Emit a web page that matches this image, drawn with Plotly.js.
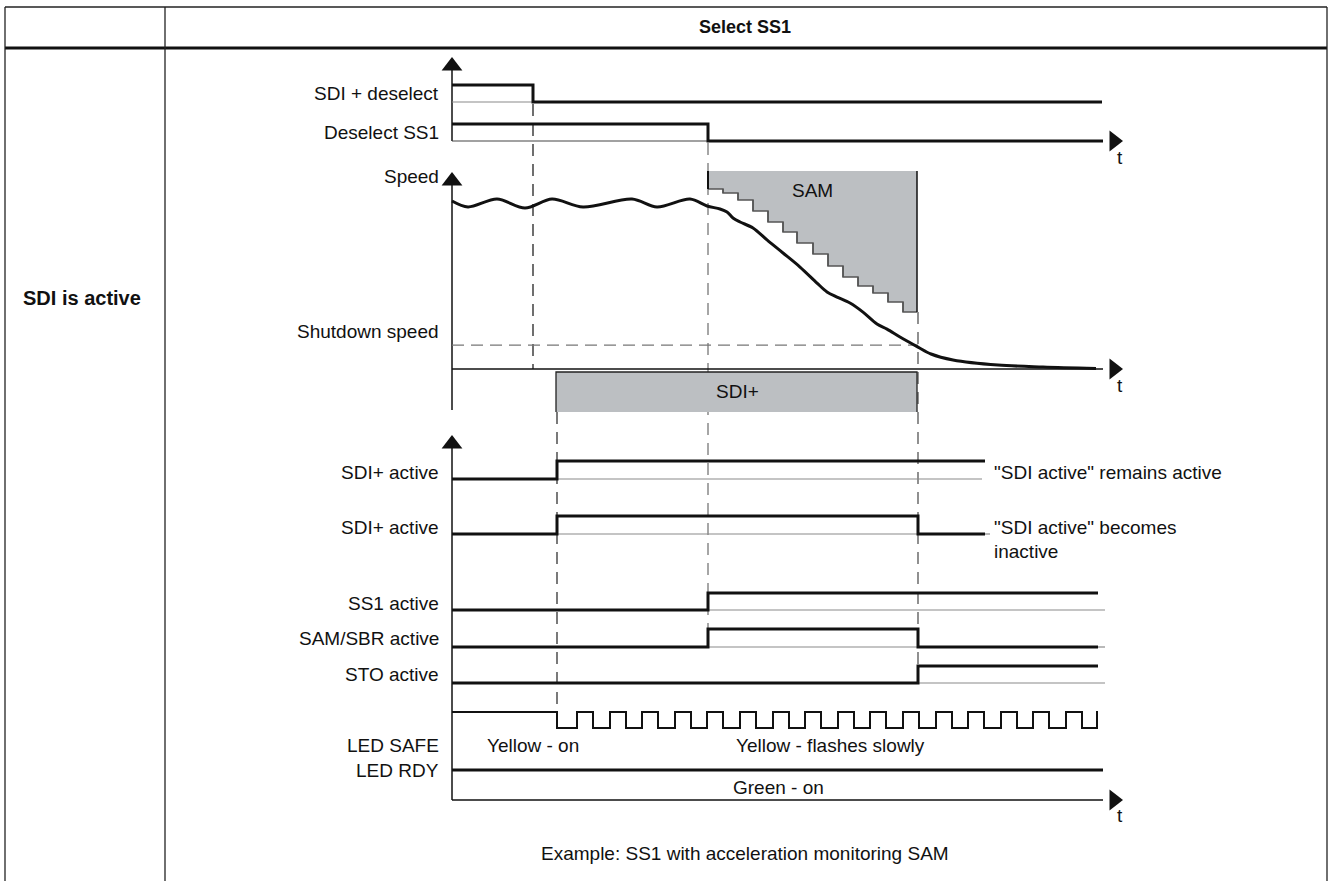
<!DOCTYPE html>
<html><head><meta charset="utf-8">
<script src="https://cdn.plot.ly/plotly-3.0.1.min.js"></script>
<style>html,body{margin:0;padding:0;background:#fff}#chart{width:1330px;height:881px}</style>
</head><body><div id="chart"></div>
<script>
// ---------- DATA (time in diagram units, 0 = time axis origin) ----------
const eventTimes = [81, 105, 256, 466];          // SDI deselect, SDI+ start, SS1 deselect, STO
const tTopEnd = 650, tSignalEnd = 646, tAxisEnd = 651, tArrow = 662, tSdiTextEnd = 533;

const sdiDeselectT = [0, 81, 81, 650];        const sdiDeselectV = [1, 1, 0, 0];
const deselectSs1T = [0, 256, 256, 651];      const deselectSs1V = [1, 1, 0, 0];
const sdiActiveAT  = [0, 105, 105, 533];      const sdiActiveAV  = [0, 0, 1, 1];
const sdiActiveBT  = [0, 105, 105, 466, 466, 533]; const sdiActiveBV = [0, 0, 1, 1, 0, 0];
const ss1ActiveT   = [0, 256, 256, 646];      const ss1ActiveV   = [0, 0, 1, 1];
const samSbrT      = [0, 256, 256, 466, 466, 646]; const samSbrV = [0, 0, 1, 1, 0, 0];
const stoActiveT   = [0, 466, 466, 646];      const stoActiveV   = [0, 0, 1, 1];
const ledRiseT = [125,158,190,223,255,288,321,353,386,418,451,484,516,549,581,614,645];
const ledFallT = [141,174,206,239,271,304,337,369,402,434,467,500,532,565,597,630];
const ledRdyT = [0, 651]; const ledRdyV = [1, 1];

// speed in % of nominal
const speedT = [0,16,45,73,100,131,180,205,238,255,268,275,281,288,301,315,331,348,365,375,385,398,411,425,435,448,466,479,501,546,591,644];
const speedV = [101.8,98.2,103.0,97.6,103.0,98.2,103.0,98.2,103.0,98.8,97.0,95.2,91.5,89.1,85.5,78.2,70.3,61.8,52.1,46.7,43.6,40.0,34.5,27.3,24.2,19.4,13.3,9.1,5.5,2.4,1.2,0.3];
const shutdownSpeed = 14.5;
const samTop = 120;
const samStepT = [256,271,286,301,316,331,345,361,376,391,406,421,436,451,465];
const samStepV = [109.1,106.7,102.4,95.8,89.1,83.0,76.4,69.7,62.4,55.8,50.3,46.1,40.6,34.5];

const rowLabels = ['SDI + deselect','Deselect SS1','Speed','Shutdown speed','SDI+ active','SDI+ active','SS1 active','SAM/SBR active','STO active','LED SAFE','LED RDY'];
const headerTitle = 'Select SS1';
const rowTitle = 'SDI is active';
const caption = 'Example: SS1 with acceleration monitoring SAM';

// ---------- LAYOUT HELPERS ----------
const W = 1330, H = 881;
const FONT = 'Liberation Sans, Arial, sans-serif';
const BLACK = '#111';
const GRAY = '#8a8a8a';
const FILL = '#bcbfc2';
function sigDomain(pxLow, pxHigh) {      // range [-0.5,1.5]
  const h = pxLow - pxHigh;
  return [1 - (pxLow + 0.5*h)/H, 1 - (pxHigh - 0.5*h)/H];
}
const hiddenAx = {visible:false, fixedrange:true, showgrid:false, zeroline:false};
const layout = {
  width: W, height: H, margin:{l:0,r:0,t:0,b:0}, paper_bgcolor:'#fff', plot_bgcolor:'rgba(0,0,0,0)',
  showlegend:false, font:{family:FONT, size:19, color:BLACK},
  xaxis: Object.assign({range:[-452, W-452], domain:[0,1], anchor:'y'}, hiddenAx),
  xaxis2: Object.assign({range:[0, W], overlaying:'x', anchor:'y'}, hiddenAx),
  yaxis: Object.assign({range:[H, 0], domain:[0,1], anchor:'x'}, hiddenAx),
  shapes: [], annotations: []
};
// signal rows: [axis, lowPx, highPx]
const rows = {
  sdiDes: ['y2', 102, 85], desSs1: ['y3', 141, 124], sdiA: ['y5', 479, 461], sdiB: ['y6', 534, 516],
  ss1: ['y7', 610, 593], sam: ['y8', 647, 629], sto: ['y9', 683, 666], led: ['y10', 728, 712], rdy: ['y11', 800, 770]
};
for (const k in rows) {
  const [ax, lo, hi] = rows[k];
  layout['yaxis' + ax.slice(1)] = Object.assign({range:[-0.5,1.5], domain:sigDomain(lo, hi), anchor:'x'}, hiddenAx);
}
// speed axis: v=0 at 369px, 1.65 px per %
layout.yaxis4 = Object.assign({range:[-30,125], domain:[1-418.5/H, 1-162.75/H], anchor:'x'}, hiddenAx);

const traces = [];
function line(x, y, yaxis, opts) {
  traces.push(Object.assign({type:'scatter', mode:'lines', x:x, y:y, xaxis:'x', yaxis:yaxis, hoverinfo:'skip',
    line:{color:BLACK, width:3}}, opts||{}));
}
function thin(t0, t1, yaxis, color) {
  line([t0, t1], [0, 0], yaxis, {line:{color:color||GRAY, width:1.2}});
}
function marker(x, y, xaxis, yaxis, sym) {
  traces.push({type:'scatter', mode:'markers', x:[x], y:[y], xaxis:xaxis, yaxis:yaxis, hoverinfo:'skip', cliponaxis:false,
    marker:{symbol:sym, size:18, color:BLACK, line:{width:0}}});
}

// ---------- TABLE ----------
const tbl = {type:'line', xref:'x2', yref:'y', line:{color:'#222', width:1.3}};
layout.shapes.push(Object.assign({}, tbl, {x0:5, x1:1327, y0:7, y1:7}));
layout.shapes.push(Object.assign({}, tbl, {x0:5, x1:1327, y0:48, y1:48, line:{color:'#111', width:3}}));
layout.shapes.push(Object.assign({}, tbl, {x0:5, x1:5, y0:7, y1:H}));
layout.shapes.push(Object.assign({}, tbl, {x0:165, x1:165, y0:7, y1:H}));
layout.shapes.push(Object.assign({}, tbl, {x0:1327, x1:1327, y0:7, y1:H}));

// ---------- DASHED EVENT LINES (pixel y) ----------
const dashSpans = [[104, 369], [412, 712], [143, 629], [312, 666]];
const dashColors = ['#222', '#333', '#777', '#555'];
eventTimes.forEach((t, i) => {
  line([t, t], dashSpans[i], 'y', {line:{color:dashColors[i], width:1.3, dash:'12px,8px'}});
});

// ---------- SAM region ----------
const samPolyT = [samStepT[0]], samPolyV = [samTop];
for (let i = 0; i < samStepV.length; i++) {
  samPolyT.push(samStepT[i], samStepT[i+1]); samPolyV.push(samStepV[i], samStepV[i]);
}
samPolyT.push(samStepT[samStepT.length-1]); samPolyV.push(samTop);
line(samPolyT, samPolyV, 'y4', {fill:'toself', fillcolor:FILL, line:{width:0, color:FILL}});
const stairT = [], stairV = [];
for (let i = 0; i < samStepV.length; i++) { stairT.push(samStepT[i], samStepT[i+1]); stairV.push(samStepV[i], samStepV[i]); }
line(stairT, stairV, 'y4', {line:{color:'#555', width:1.5}});
const riserT = [], riserV = [];
for (let i = 1; i < samStepV.length; i++) { riserT.push(samStepT[i], samStepT[i], null); riserV.push(samStepV[i-1], samStepV[i], null); }
line(riserT, riserV, 'y4', {line:{color:'#555', width:1.5}});
line([samStepT[0], samStepT[0]], [samTop, samStepV[0]], 'y4', {line:{color:BLACK, width:2}});
line([samStepT[samStepT.length-1], samStepT[samStepT.length-1]], [samTop, samStepV[samStepV.length-1]], 'y4', {line:{color:BLACK, width:1.5}});

// SDI+ band below the speed axis
const sdiBand = [eventTimes[1] - 1, eventTimes[3] - 1];
line([sdiBand[0], sdiBand[0], sdiBand[1], sdiBand[1], sdiBand[0]], [412, 372, 372, 412, 412], 'y',
  {fill:'toself', fillcolor:FILL, line:{width:0, color:FILL}});
line([sdiBand[0], sdiBand[0], sdiBand[1], sdiBand[1]], [412, 372, 372, 412], 'y', {line:{color:'#222', width:1.3}});

// ---------- AXES (pixel y) ----------
line([0, 0], [68, 141], 'y', {line:{color:BLACK, width:1.5}});
line([0, 0], [184, 410], 'y', {line:{color:BLACK, width:1.5}});
line([0, 0], [447, 800], 'y', {line:{color:BLACK, width:1.5}});
marker(0, 66, 'x', 'y', 'triangle-up');
marker(0, 181, 'x', 'y', 'triangle-up');
marker(0, 444, 'x', 'y', 'triangle-up');

// ---------- SPEED ----------
line([0, eventTimes[3]], [shutdownSpeed, shutdownSpeed], 'y4', {line:{color:'#777', width:1.3, dash:'12px,7px'}});
line([0, tAxisEnd], [0, 0], 'y4', {line:{color:BLACK, width:1.5}});
marker(tArrow, 0, 'x', 'y4', 'triangle-right');
line(speedT, speedV, 'y4', {line:{color:BLACK, width:3, shape:'spline', smoothing:0.9}});

// ---------- SIGNALS ----------
thin(0, 81, 'y2');
line(sdiDeselectT, sdiDeselectV, 'y2');
thin(0, 256, 'y3', '#444');
line(deselectSs1T, deselectSs1V, 'y3');
marker(tArrow, 0, 'x', 'y3', 'triangle-right');

thin(105, 530, 'y5'); line(sdiActiveAT, sdiActiveAV, 'y5');
thin(105, 466, 'y6'); thin(533, 538, 'y6'); line(sdiActiveBT, sdiActiveBV, 'y6');
thin(256, 653, 'y7'); line(ss1ActiveT, ss1ActiveV, 'y7');
thin(256, 466, 'y8'); thin(646, 653, 'y8'); line(samSbrT, samSbrV, 'y8');
thin(466, 653, 'y9'); line(stoActiveT, stoActiveV, 'y9');

// LED SAFE
const ledT = [0, eventTimes[1]], ledV = [1, 0];
for (let i = 0; i < ledRiseT.length; i++) {
  ledT.push(ledRiseT[i]); ledV.push(1);
  if (i < ledFallT.length) { ledT.push(ledFallT[i]); ledV.push(0); }
}
ledT.push(tSignalEnd); ledV.push(1);
line(ledT, ledV, 'y10', {line:{color:BLACK, width:2, shape:'hv'}});
// LED RDY
line(ledRdyT, ledRdyV, 'y11');
line([0, tAxisEnd], [0, 0], 'y11', {line:{color:BLACK, width:1.5}});
marker(tArrow, 0, 'x', 'y11', 'triangle-right');

// ---------- TEXT ----------
function txt(text, x, y, anchor, opts) {
  layout.annotations.push(Object.assign({text:text, x:x, y:y, xref:'x2', yref:'y', xanchor:anchor||'center', yanchor:'middle',
    showarrow:false, font:{family:FONT, size:19, color:BLACK}}, opts||{}));
}
const labelY = [93, 132, 176, 331, 472, 527, 603, 638, 674, 745, 770];
rowLabels.forEach((s, i) => txt(s, 441, labelY[i], 'right'));
txt('<b>' + headerTitle + '</b>', 745, 27, 'center', {font:{family:FONT, size:18, color:BLACK}});
txt('<b>' + rowTitle + '</b>', 82, 298, 'center', {font:{family:FONT, size:20, color:BLACK}});
txt('SAM', 812, 190);
txt('SDI+', 737, 391);
txt('"SDI active" remains active', 992, 472, 'left');
txt('"SDI active" becomes', 992, 527, 'left');
txt('inactive', 992, 551, 'left');
txt('Yellow - on', 533, 745);
txt('Yellow - flashes slowly', 830, 745);
txt('Green - on', 778, 787);
txt('t', 1120, 157);
txt('t', 1120, 385);
txt('t', 1120, 815);
txt(caption, 745, 853);

Plotly.newPlot('chart', traces, layout, {staticPlot:true, displayModeBar:false});
</script></body></html>
